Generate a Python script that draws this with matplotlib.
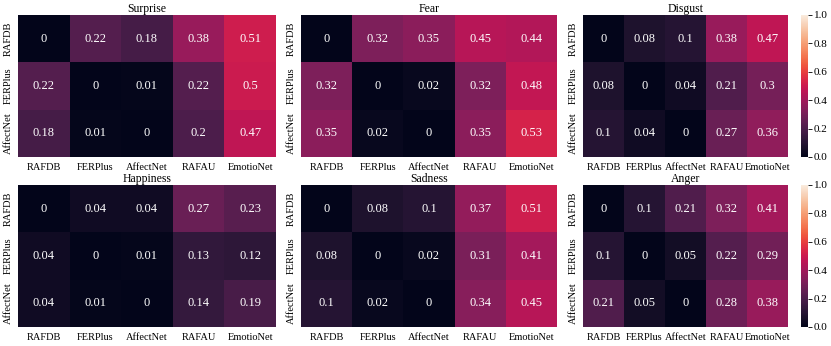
import numpy as np
import matplotlib
matplotlib.use("Agg")
import matplotlib.pyplot as plt
import seaborn as sns

plt.rcParams["font.family"] = ["Liberation Serif", "DejaVu Serif"]

# ---------------- DATA ----------------
datasets_rows = ["RAFDB", "FERPlus", "AffectNet"]
datasets_cols = ["RAFDB", "FERPlus", "AffectNet", "RAFAU", "EmotioNet"]
emotions = ["Surprise", "Fear", "Disgust", "Happiness", "Sadness", "Anger"]

surprise = [[0, 0.22, 0.18, 0.38, 0.51],
            [0.22, 0, 0.01, 0.22, 0.5],
            [0.18, 0.01, 0, 0.2, 0.47]]
fear = [[0, 0.32, 0.35, 0.45, 0.44],
        [0.32, 0, 0.02, 0.32, 0.48],
        [0.35, 0.02, 0, 0.35, 0.53]]
disgust = [[0, 0.08, 0.1, 0.38, 0.47],
           [0.08, 0, 0.04, 0.21, 0.3],
           [0.1, 0.04, 0, 0.27, 0.36]]
happiness = [[0, 0.04, 0.04, 0.27, 0.23],
             [0.04, 0, 0.01, 0.13, 0.12],
             [0.04, 0.01, 0, 0.14, 0.19]]
sadness = [[0, 0.08, 0.1, 0.37, 0.51],
           [0.08, 0, 0.02, 0.31, 0.41],
           [0.1, 0.02, 0, 0.34, 0.45]]
anger = [[0, 0.1, 0.21, 0.32, 0.41],
         [0.1, 0, 0.05, 0.22, 0.29],
         [0.21, 0.05, 0, 0.28, 0.38]]

matrices = [surprise, fear, disgust, happiness, sadness, anger]

# ---------------- LAYOUT (pixels) ----------------
W, H = 831, 346
fig = plt.figure(figsize=(W / 100, H / 100), dpi=100)

col_x = [(18, 258), (301, 256), (583, 205)]
row_y = [15, 185]
ax_h = 142
cbar_x, cbar_w = 801, 7


def px_rect(x, y, w, h):
    return [x / W, 1 - (y + h) / H, w / W, h / H]


for i, (name, mat) in enumerate(zip(emotions, matrices)):
    r, c = divmod(i, 3)
    x, w = col_x[c]
    y = row_y[r]
    ax = fig.add_axes(px_rect(x, y, w, ax_h))
    if c == 2:
        cax = fig.add_axes(px_rect(cbar_x, y, cbar_w, ax_h))
        kw = dict(cbar=True, cbar_ax=cax)
    else:
        kw = dict(cbar=False)
    sns.heatmap(np.array(mat), ax=ax, annot=True, fmt="g", cmap="rocket",
                vmin=0, vmax=1, xticklabels=datasets_cols,
                yticklabels=datasets_rows, annot_kws={"fontsize": 9}, **kw)
    ax.set_title(name, fontsize=8.5, pad=2)
    ax.tick_params(length=0, labelsize=7.5, pad=4)
    ax.set_yticklabels(datasets_rows, rotation=90, va="center")
    ax.set_xticklabels(datasets_cols, rotation=0)
    if c == 2:
        cax.tick_params(labelsize=8, length=3, width=0.6, pad=1)
        cax.set_yticks([0, 0.2, 0.4, 0.6, 0.8, 1.0])
        cax.set_yticklabels(["0.0", "0.2", "0.4", "0.6", "0.8", "1.0"])
        for s in cax.spines.values():
            s.set_visible(False)

fig.savefig("out.png", dpi=100)
